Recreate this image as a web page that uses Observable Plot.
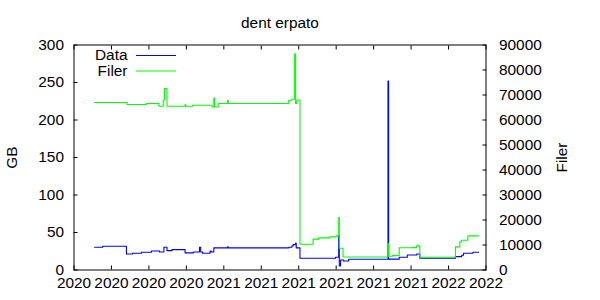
<!DOCTYPE html>
<html>
<head>
<meta charset="utf-8">
<script src="https://cdn.jsdelivr.net/npm/d3@7"></script>
<script src="https://cdn.jsdelivr.net/npm/@observablehq/plot@0.6"></script>
<style>
  html, body { margin: 0; padding: 0; background: white; }
</style>
</head>
<body>
<div id="chart"></div>
<script>
const title = "dent erpato";
const seriesNames = ["Data", "Filer"];
const seriesColors = ["#0000ff", "#00ff00"];
const yLabel = "GB";
const y2Label = "Filer";

const xTicks = ["2020-06-01","2020-07-31","2020-09-29","2020-11-28","2021-01-27","2021-03-28",
  "2021-05-27","2021-07-26","2021-09-24","2021-11-23","2022-01-22","2022-03-23"];
const gbTicks = [0, 50, 100, 150, 200, 250, 300];
const filerTicks = [0, 10000, 20000, 30000, 40000, 50000, 60000, 70000, 80000, 90000];
const gbMax = 300, filerMax = 90000;

const dataDates = ["2020-07-04","2020-07-17","2020-08-24","2020-09-03","2020-09-17","2020-10-03","2020-10-16",
  "2020-10-23","2020-10-28","2020-11-05","2020-11-26","2020-12-09","2020-12-19","2020-12-21","2020-12-24",
  "2021-01-05","2021-01-07","2021-01-11","2021-02-02","2021-02-03","2021-05-11","2021-05-16","2021-05-18",
  "2021-05-22","2021-05-23","2021-05-29","2021-07-25","2021-07-30","2021-07-31","2021-08-02","2021-08-07",
  "2021-08-15","2021-10-17","2021-10-18","2021-11-04","2021-11-17","2021-12-02","2021-12-07","2022-02-02",
  "2022-02-12","2022-02-15","2022-03-02","2022-03-11"];
const dataGB = [30.4,31.7,21.4,22.3,23.7,25.4,24.1,30.4,25.8,27.2,22.8,24.1,30.4,24.1,22.4,
  25.4,24.1,29.5,30.8,29.5,30.4,32.1,33.9,35.8,29.5,15.7,17.0,45.5,5.4,13.4,12.1,
  14.3,251.8,14.5,17.0,20.1,21.4,15.7,17.8,19.7,22.4,23.7,23.7];

const filerDates = ["2020-07-04","2020-08-25","2020-09-25","2020-10-15","2020-10-22","2020-10-24","2020-10-28",
  "2020-11-26","2020-11-27","2020-12-08","2021-01-08","2021-01-11","2021-01-12","2021-01-18","2021-02-02",
  "2021-02-03","2021-05-11","2021-05-16","2021-05-20","2021-05-22","2021-05-24","2021-05-29","2021-06-19",
  "2021-06-28","2021-07-16","2021-07-26","2021-07-30","2021-07-31","2021-08-06","2021-10-17","2021-10-18",
  "2021-10-24","2021-11-04","2021-11-25","2021-12-02","2021-12-07","2022-02-02","2022-02-09","2022-02-12",
  "2022-02-22","2022-03-11"];
const filerCount = [66980,66180,66580,65490,68000,72600,65490,66180,65490,65900,65210,68800,65210,66580,67900,
  66580,67900,68300,86390,66580,68000,10330,12340,12860,13260,13660,21010,8720,5220,10570,5500,
  5750,8900,8960,9640,5100,9240,11250,11930,13660,13660];

const toScale = v => v * gbMax / filerMax;
const dataRows = dataDates.map((d, i) => ({date: new Date(d), v: dataGB[i]}));
const filerRows = filerDates.map((d, i) => ({date: new Date(d), v: toScale(filerCount[i])}));
const xt = xTicks.map(d => new Date(d));

const fontSize = 15.4;

const svg = Plot.plot({
  width: 600,
  height: 300,
  marginLeft: 73.5,
  marginRight: 114.5,
  marginTop: 44.5,
  marginBottom: 30.5,
  style: {fontFamily: "'Liberation Sans', Arial, sans-serif", fontSize: fontSize + "px", background: "white", color: "black", overflow: "visible"},
  x: {type: "utc", domain: [xt[0], xt[xt.length - 1]], label: null},
  y: {domain: [0, gbMax], label: null},
  marks: [
    Plot.line(dataRows, {x: "date", y: "v", stroke: seriesColors[0], strokeWidth: 1.1, curve: "step-after"}),
    Plot.line(filerRows, {x: "date", y: "v", stroke: seriesColors[1], strokeWidth: 1.1, curve: "step-after"}),
    Plot.frame({stroke: "black", strokeWidth: 1}),
    // x labels and inward ticks (bottom + mirrored top)
    Plot.axisX(xt, {anchor: "bottom", tickSize: 0, tickPadding: 7, tickFormat: "%Y"}),
    Plot.axisX(xt, {anchor: "bottom", tickSize: 4, dy: -4, tickFormat: () => ""}),
    Plot.axisX(xt, {anchor: "top", tickSize: 4, dy: 4, tickFormat: () => ""}),
    // left GB axis
    Plot.axisY(gbTicks, {anchor: "left", tickSize: 0, tickPadding: 10, label: null}),
    Plot.axisY(gbTicks, {anchor: "left", tickSize: 4, dx: 4, tickFormat: () => "", label: null}),
    // right Filer axis
    Plot.axisY(filerTicks.map(toScale), {anchor: "right", tickSize: 0, tickPadding: 13, label: null,
      tickFormat: d => String(Math.round(d * filerMax / gbMax))}),
    Plot.axisY(filerTicks.map(toScale), {anchor: "right", tickSize: 4, dx: -4, tickFormat: () => "", label: null}),
    // title and axis labels
    Plot.text([title], {frameAnchor: "top", dy: -22.4, lineAnchor: "middle", textAnchor: "middle", fontSize: fontSize}),
    Plot.text([yLabel], {frameAnchor: "left", dx: -62, rotate: -90, textAnchor: "middle", lineAnchor: "middle", fontSize: fontSize}),
    Plot.text([y2Label], {frameAnchor: "right", dx: 76, rotate: -90, textAnchor: "middle", lineAnchor: "middle", fontSize: fontSize}),
    // legend text
    Plot.text([seriesNames[0]], {frameAnchor: "top-left", dx: 53.5, dy: 9.9, textAnchor: "end", lineAnchor: "middle", fontSize: fontSize}),
    Plot.text([seriesNames[1]], {frameAnchor: "top-left", dx: 53.5, dy: 25.6, textAnchor: "end", lineAnchor: "middle", fontSize: fontSize})
  ]
});

// legend sample lines
const s = d3.select(svg);
[[55.5, seriesColors[0]], [71, seriesColors[1]]].forEach(([y, c]) => {
  s.append("line").attr("x1", 136).attr("x2", 176).attr("y1", y).attr("y2", y)
    .attr("stroke", c).attr("stroke-width", 1.1);
});

document.getElementById("chart").appendChild(svg);
</script>
</body>
</html>
